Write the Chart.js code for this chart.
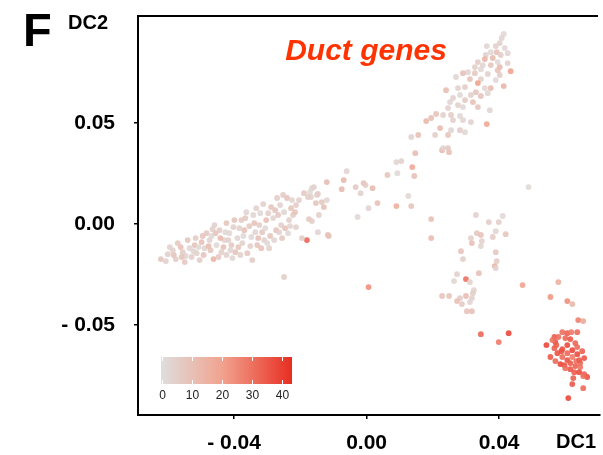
<!DOCTYPE html>
<html>
<head>
<meta charset="utf-8">
<script src="https://cdn.jsdelivr.net/npm/chart.js@4.4.1/dist/chart.umd.min.js"></script>
<style>
  html, body { margin: 0; padding: 0; background: #fff; }
  #wrap { width: 603px; height: 455px; position: relative; }
</style>
</head>
<body>
<div id="wrap"><canvas id="dcChart"></canvas></div>
<script>
// diffusion components (DC1, DC2) and duct gene score per cell
const dc1 = [
  // lower-left band
  -0.0621,-0.0600,-0.0582,-0.0585,-0.0561,-0.0555,-0.0540,-0.0534,-0.0528,-0.0519,
  -0.0513,-0.0504,-0.0498,-0.0489,-0.0483,-0.0474,-0.0471,-0.0462,-0.0456,-0.0453,
  -0.0444,-0.0438,-0.0429,-0.0423,-0.0423,-0.0414,-0.0408,-0.0402,-0.0396,-0.0390,
  -0.0378,-0.0375,-0.0369,-0.0363,-0.0360,-0.0348,-0.0345,-0.0339,-0.0333,-0.0330,
  -0.0321,-0.0315,-0.0309,-0.0303,-0.0294,-0.0288,-0.0282,-0.0273,-0.0270,-0.0258,
  -0.0255,-0.0249,-0.0240,-0.0234,-0.0228,-0.0225,-0.0213,-0.0213,-0.0180,-0.0249,
  -0.0570,-0.0546,-0.0516,-0.0492,-0.0468,-0.0447,-0.0432,-0.0417,-0.0405,-0.0387,
  -0.0384,-0.0372,-0.0354,-0.0351,-0.0336,-0.0324,-0.0318,-0.0306,-0.0297,-0.0291,
  -0.0279,-0.0267,-0.0261,-0.0246,-0.0237,-0.0222,-0.0606,-0.0549,-0.0507,-0.0477,
  -0.0459,-0.0441,
  -0.0576,-0.0522,-0.0495,-0.0465,-0.0426,-0.0399,-0.0381,-0.0366,-0.0342,-0.0327,
  -0.0312,-0.0300,-0.0276,-0.0264,-0.0252,-0.0231,-0.0216,-0.0204,-0.0189,-0.0594,
  -0.0558,-0.0411,
  // middle branch
  -0.0195,-0.0168,-0.0165,-0.0153,-0.0150,-0.0144,-0.0135,-0.0120,-0.0117,-0.0177,
  -0.0171,-0.0159,-0.0147,-0.0129,-0.0120,-0.0174,-0.0165,-0.0147,-0.0114,-0.0075,
  -0.0069,-0.0060,-0.0033,-0.0027,-0.0018,-0.0009,-0.0003,0.0006,0.0018,0.0033,
  0.0063,0.0090,0.0093,0.0105,0.0090,0.0126,0.0135,0.0138,0.0144,0.0147,
  0.0228,0.0249,0.0006,
  // upper branch
  0.0414,0.0408,0.0402,0.0417,0.0390,0.0363,0.0393,0.0375,0.0405,0.0360,
  0.0426,0.0381,0.0357,0.0336,0.0396,0.0426,0.0375,0.0351,0.0327,0.0402,
  0.0345,0.0435,0.0396,0.0306,0.0327,0.0366,0.0291,0.0402,0.0270,0.0345,
  0.0312,0.0390,0.0336,0.0414,0.0375,0.0357,0.0297,0.0276,0.0240,0.0330,
  0.0366,0.0315,0.0282,0.0345,0.0261,0.0297,0.0252,0.0321,0.0276,0.0291,
  0.0336,0.0246,0.0372,0.0210,0.0231,0.0255,0.0282,0.0195,0.0180,0.0261,
  0.0291,0.0315,0.0363,0.0222,0.0255,0.0282,0.0297,0.0207,0.0246,0.0156,
  0.0135,0.0231,0.0246,0.0489,
  // right-middle group
  0.0195,0.0195,0.0330,0.0411,0.0369,0.0399,0.0390,0.0333,0.0345,0.0315,
  0.0420,0.0381,0.0348,0.0318,0.0345,0.0285,0.0390,0.0291,0.0393,0.0387,
  0.0390,0.0339,0.0273,0.0264,0.0300,0.0312,0.0324,0.0321,0.0228,0.0249,
  0.0300,0.0318,0.0282,0.0273,0.0312,0.0288,0.0303,0.0318,0.0471,0.0579,
  0.0555,0.0606,0.0621,0.0345,0.0429,0.0399,
  // duct cluster
  0.0639,0.0654,0.0591,0.0606,0.0618,0.0636,0.0567,0.0579,0.0570,0.0600,
  0.0615,0.0543,0.0573,0.0606,0.0636,0.0591,0.0621,0.0651,0.0576,0.0606,
  0.0636,0.0555,0.0591,0.0621,0.0657,0.0570,0.0606,0.0633,0.0585,0.0615,
  0.0645,0.0597,0.0630,0.0615,0.0645,0.0627,0.0642,0.0657,0.0666,0.0654,
  0.0624,0.0621,0.0654,0.0609,0.0567,0.0588,0.0600,0.0642,0.0561,0.0630
];
const dc2 = [
  -0.0173,-0.0149,-0.0153,-0.0129,-0.0114,-0.0139,-0.0079,-0.0119,-0.0163,-0.0104,
  -0.0144,-0.0178,-0.0089,-0.0119,-0.0045,-0.0079,-0.0129,-0.0173,-0.0045,-0.0104,
  -0.0030,-0.0139,-0.0079,0.0005,-0.0153,-0.0045,-0.0104,-0.0015,-0.0139,-0.0069,
  0.0020,-0.0094,-0.0030,0.0059,-0.0144,-0.0064,-0.0178,0.0005,0.0079,-0.0104,
  0.0054,-0.0040,-0.0079,0.0020,-0.0119,0.0084,0.0030,-0.0030,0.0129,-0.0005,
  -0.0069,0.0059,0.0129,0.0020,0.0079,0.0119,0.0094,-0.0015,-0.0079,-0.0262,
  -0.0094,-0.0158,-0.0069,-0.0153,-0.0059,-0.0163,-0.0114,-0.0079,-0.0168,-0.0114,
  -0.0020,-0.0059,-0.0010,-0.0109,-0.0040,-0.0005,-0.0119,-0.0020,0.0054,-0.0059,
  -0.0079,0.0045,0.0094,-0.0020,-0.0045,0.0045,-0.0183,-0.0188,-0.0114,-0.0109,
  -0.0005,-0.0069,
  -0.0173,-0.0134,-0.0059,-0.0025,-0.0040,0.0020,-0.0153,0.0030,0.0045,-0.0069,
  0.0099,-0.0094,0.0069,-0.0040,0.0144,-0.0010,0.0059,0.0119,0.0153,-0.0114,
  -0.0163,-0.0129,
  -0.0069,0.0134,0.0178,0.0104,0.0144,0.0045,0.0109,0.0119,-0.0054,0.0134,
  0.0158,0.0183,0.0149,0.0084,0.0208,0.0025,0.0015,-0.0040,-0.0059,0.0173,
  0.0218,0.0262,0.0183,0.0035,0.0153,0.0203,0.0193,0.0079,0.0178,0.0104,
  0.0243,0.0307,0.0252,0.0312,0.0089,0.0139,0.0089,0.0282,0.0238,0.0351,
  0.0366,0.0356,-0.0312,
  0.0941,0.0921,0.0896,0.0871,0.0881,0.0881,0.0851,0.0851,0.0837,0.0837,
  0.0846,0.0822,0.0817,0.0802,0.0802,0.0797,0.0787,0.0787,0.0777,0.0777,
  0.0767,0.0757,0.0762,0.0752,0.0747,0.0743,0.0747,0.0738,0.0728,0.0718,
  0.0718,0.0713,0.0698,0.0683,0.0673,0.0673,0.0678,0.0673,0.0663,0.0653,
  0.0648,0.0639,0.0639,0.0634,0.0624,0.0614,0.0604,0.0604,0.0589,0.0579,
  0.0579,0.0574,0.0564,0.0545,0.0540,0.0540,0.0535,0.0525,0.0510,0.0515,
  0.0515,0.0505,0.0495,0.0475,0.0465,0.0465,0.0455,0.0441,0.0441,0.0441,
  0.0431,0.0376,0.0376,0.0183,
  0.0025,-0.0069,0.0045,0.0040,0.0010,0.0010,-0.0035,-0.0045,-0.0054,-0.0069,
  -0.0050,-0.0064,-0.0084,-0.0094,-0.0109,-0.0134,-0.0139,-0.0173,-0.0183,-0.0208,
  -0.0218,-0.0243,-0.0248,-0.0282,-0.0272,-0.0287,-0.0327,-0.0342,-0.0356,-0.0356,
  -0.0356,-0.0366,-0.0366,-0.0381,-0.0386,-0.0396,-0.0431,-0.0431,-0.0302,-0.0287,
  -0.0361,-0.0381,-0.0396,-0.0545,-0.0540,-0.0584,
  -0.0475,-0.0480,-0.0535,-0.0540,-0.0535,-0.0535,-0.0559,-0.0559,-0.0584,-0.0564,
  -0.0569,-0.0599,-0.0599,-0.0599,-0.0609,-0.0619,-0.0624,-0.0629,-0.0639,-0.0639,
  -0.0644,-0.0658,-0.0658,-0.0658,-0.0663,-0.0678,-0.0673,-0.0678,-0.0693,-0.0688,
  -0.0688,-0.0698,-0.0703,-0.0718,-0.0708,-0.0733,-0.0733,-0.0743,-0.0757,-0.0752,
  -0.0762,-0.0792,-0.0812,-0.0861,-0.0614,-0.0629,-0.0713,-0.0673,-0.0574,-0.0589
];
const ductScore = [
  8,5,9,4,10,6,8,3,5,9,
  4,6,10,3,7,4,8,14,9,2,
  6,5,3,8,4,2,7,5,9,3,
  6,4,10,3,7,2,6,9,4,8,
  2,7,4,10,5,8,3,9,6,4,
  7,3,9,5,8,3,6,4,32,5,
  7,3,6,9,2,7,10,5,3,8,
  4,2,7,5,3,6,9,2,5,8,
  3,7,4,9,2,6,4,7,2,11,
  4,12,
  6,3,8,5,2,9,4,7,3,10,
  5,2,8,4,6,3,9,5,7,4,
  8,3,
  6,4,3,8,2,5,7,3,9,5,
  2,4,6,10,11,7,5,3,9,12,
  13,3,7,2,4,9,6,3,12,10,
  8,3,2,4,16,2,9,18,10,11,
  13,10,24,
  2,3,4,2,5,3,10,2,6,4,
  3,12,14,6,2,4,8,3,5,12,
  2,20,9,3,7,4,10,6,3,5,
  9,2,20,14,12,3,6,4,11,8,
  3,5,2,9,4,7,3,10,5,2,
  8,4,3,9,4,6,2,10,13,5,
  3,4,18,12,3,6,2,5,8,10,
  4,3,7,2,
  10,12,4,2,6,5,3,7,9,5,
  8,6,4,10,3,9,7,5,6,15,
  3,10,4,3,30,4,3,5,9,8,
  11,4,6,10,3,7,9,10,20,16,
  22,24,13,32,38,28,
  27,18,30,33,28,31,34,30,36,32,
  35,38,33,37,31,35,38,33,36,32,
  37,34,31,28,35,32,36,30,38,34,
  31,36,33,35,29,34,37,32,36,30,
  33,35,31,38,33,36,30,34,29,32
];

const xTicks = [-0.04, 0.00, 0.04];
const yTicks = [-0.05, 0.00, 0.05];
const barTicks = [0, 10, 20, 30, 40];
const barMax = 43;

// grey -> salmon -> red
const stops = [[0, [222, 222, 222]], [20, [241, 163, 143]], [43, [232, 46, 34]]];
function colorFor(v, a) {
  let i = 0;
  while (i < stops.length - 2 && v > stops[i + 1][0]) i++;
  const [v0, c0] = stops[i], [v1, c1] = stops[i + 1];
  const t = Math.max(0, Math.min(1, (v - v0) / (v1 - v0)));
  const c = c0.map((c, k) => Math.round(c + (c1[k] - c) * t));
  return `rgba(${c[0]},${c[1]},${c[2]},${a})`;
}

const fmt = v => (v < 0 ? '- ' + Math.abs(v).toFixed(2) : v.toFixed(2));
const FONT = '"Liberation Sans", Arial, sans-serif';

const points = dc1.map((x, i) => ({ x: x, y: dc2[i] }));

const decor = {
  id: 'decor',
  afterDraw(chart) {
    const { ctx, chartArea: a } = chart;
    ctx.save();
    ctx.strokeStyle = '#000';
    ctx.lineWidth = 2;
    ctx.beginPath();
    ctx.moveTo(a.left - 1, a.top);
    ctx.lineTo(598, a.top);
    ctx.stroke();

    ctx.fillStyle = '#000';
    ctx.textBaseline = 'alphabetic';
    ctx.font = 'bold 47px ' + FONT;
    ctx.fillText('F', 23, 46);
    ctx.font = 'bold 20px ' + FONT;
    ctx.fillText('DC2', 68, 29);
    ctx.fillText('DC1', 556, 448);

    ctx.fillStyle = '#ff3300';
    ctx.font = 'italic bold 30px ' + FONT;
    ctx.textAlign = 'center';
    ctx.fillText('Duct genes', 366, 60);

    // colour key
    const bx = 161, by = 357, bw = 131, bh = 27;
    const g = ctx.createLinearGradient(bx, 0, bx + bw, 0);
    stops.forEach(s => g.addColorStop(s[0] / barMax, colorFor(s[0], 1)));
    ctx.fillStyle = g;
    ctx.fillRect(bx, by, bw, bh);
    ctx.strokeStyle = '#fff';
    ctx.lineWidth = 1;
    ctx.fillStyle = '#222';
    ctx.font = '12px ' + FONT;
    ctx.textBaseline = 'middle';
    barTicks.forEach(t => {
      const tx = Math.round(bx + 1 + t / barMax * (bw - 2)) + 0.5;
      ctx.beginPath();
      ctx.moveTo(tx, by); ctx.lineTo(tx, by + 4);
      ctx.moveTo(tx, by + bh - 4); ctx.lineTo(tx, by + bh);
      ctx.stroke();
      ctx.fillText(String(t), tx, 396);
    });
    ctx.restore();
  }
};

new Chart(document.getElementById('dcChart'), {
  type: 'scatter',
  data: {
    datasets: [{
      label: 'Duct genes',
      data: points,
      backgroundColor: ductScore.map(v => colorFor(v, 0.9)),
      borderWidth: 0,
      pointRadius: 2.9,
      pointHoverRadius: 2.9
    }]
  },
  options: {
    responsive: true,
    maintainAspectRatio: false,
    animation: false,
    layout: { padding: { top: 16, right: 0, left: 0, bottom: 0 } },
    plugins: { legend: { display: false }, tooltip: { enabled: false } },
    scales: {
      x: {
        type: 'linear',
        min: -0.069,
        max: 0.0705,
        afterBuildTicks: s => { s.ticks = xTicks.map(v => ({ value: v })); },
        afterFit: s => { s.height = 40; s.paddingLeft = 0; s.paddingRight = 0; },
        ticks: { callback: fmt, color: '#000', font: { family: FONT, size: 21, weight: 'bold' }, padding: 12, maxRotation: 0, autoSkip: false },
        grid: { drawOnChartArea: false, color: '#000', lineWidth: 1.5, tickLength: 4 },
        border: { color: '#000', width: 2 }
      },
      y: {
        type: 'linear',
        min: -0.0945,
        max: 0.103,
        afterBuildTicks: s => { s.ticks = yTicks.map(v => ({ value: v })); },
        afterFit: s => { s.width = 138; s.paddingTop = 0; s.paddingBottom = 0; },
        ticks: { callback: fmt, color: '#000', font: { family: FONT, size: 21, weight: 'bold' }, padding: 19, autoSkip: false },
        grid: { drawOnChartArea: false, color: '#000', lineWidth: 1.5, tickLength: 4 },
        border: { color: '#000', width: 2 }
      }
    }
  },
  plugins: [decor]
});
</script>
</body>
</html>
